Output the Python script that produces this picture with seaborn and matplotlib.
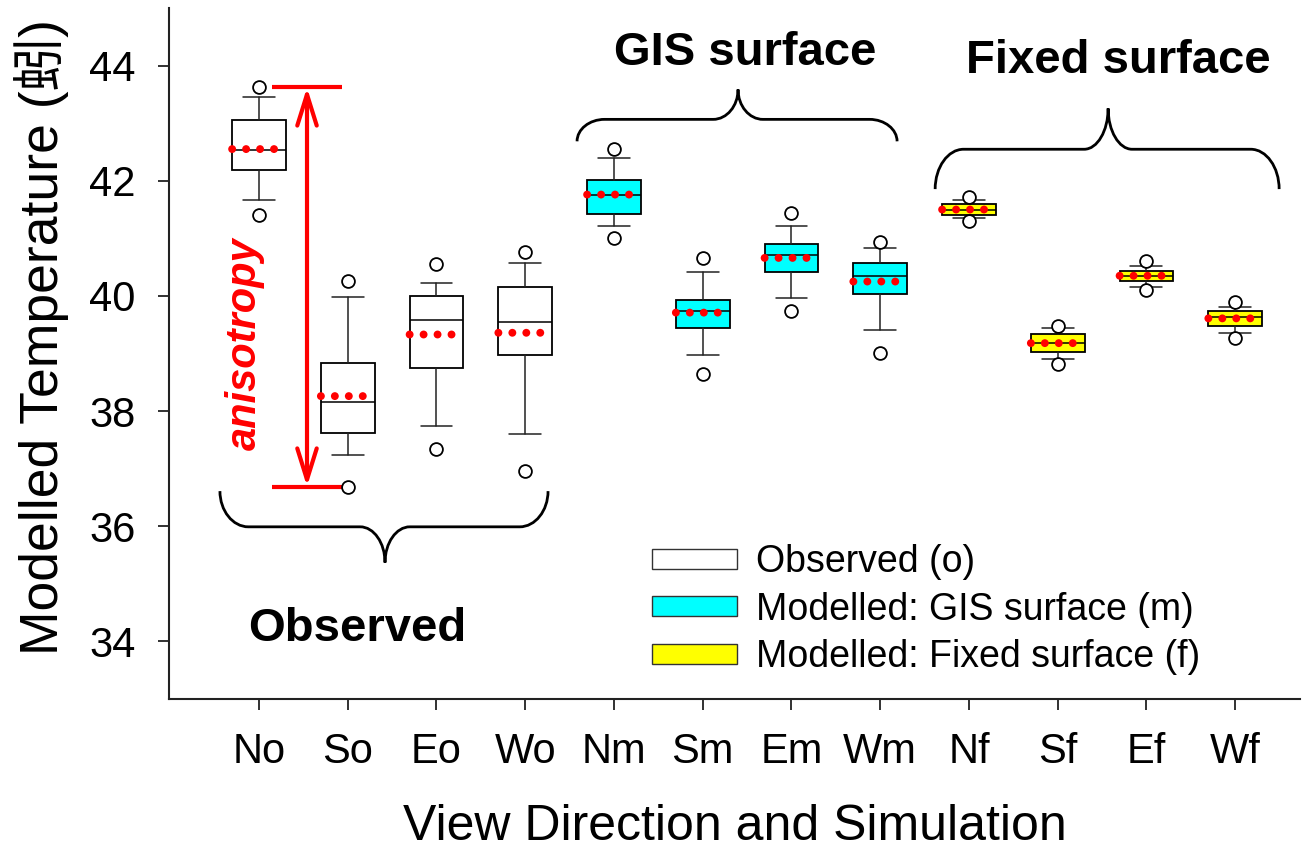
import numpy as np
import pandas as pd
import matplotlib
matplotlib.use("Agg")
import matplotlib.pyplot as plt
from matplotlib.patches import Patch, PathPatch
from matplotlib.path import Path
import seaborn as sns

# ---- data -------------------------------------------------------------
labels = ["No", "So", "Eo", "Wo", "Nm", "Sm", "Em", "Wm", "Nf", "Sf", "Ef", "Wf"]
groups = ["Observed (o)"] * 4 + ["Modelled: GIS surface (m)"] * 4 + ["Modelled: Fixed surface (f)"] * 4

q1 = [42.18, 37.62, 38.75, 38.97, 41.43, 39.44, 40.41, 40.03, 41.40, 39.03, 40.26, 39.48]
median = [42.54, 38.15, 39.59, 39.55, 41.76, 39.74, 40.71, 40.35, 41.49, 39.18, 40.35, 39.64]
q3 = [43.06, 38.84, 39.99, 40.16, 42.02, 39.93, 40.90, 40.58, 41.59, 39.34, 40.44, 39.74]
whisker_lo = [41.66, 37.24, 37.74, 37.60, 41.22, 38.98, 39.96, 39.41, 41.35, 38.90, 40.16, 39.35]
whisker_hi = [43.45, 39.98, 40.22, 40.58, 42.40, 40.42, 41.21, 40.84, 41.67, 39.44, 40.52, 39.80]
mean = [42.55, 38.26, 39.33, 39.36, 41.76, 39.71, 40.66, 40.25, 41.50, 39.18, 40.35, 39.61]
outlier_lo = [41.40, 36.69, 37.34, 36.96, 41.00, 38.64, 39.73, 39.00, 41.30, 38.82, 40.11, 39.27]
outlier_hi = [43.62, 40.26, 40.55, 40.77, 42.55, 40.66, 41.44, 40.93, 41.72, 39.48, 40.60, 39.90]

group_colors = {"Observed (o)": "#FFFFFF",
                "Modelled: GIS surface (m)": "#00FFFF",
                "Modelled: Fixed surface (f)": "#FFFF00"}

# ---- style ------------------------------------------------------------
sns.set_style("ticks")
plt.rcParams["font.family"] = ["Liberation Sans", "Noto Sans CJK SC", "DejaVu Sans"]
plt.rcParams.update({"text.color": "black", "axes.labelcolor": "black",
                     "xtick.color": "black", "ytick.color": "black"})

fig = plt.figure(figsize=(13.07, 8.55), dpi=100)
ax = fig.add_axes([169 / 1307, 1 - 699 / 855, (1300 - 169) / 1307, (699 - 8) / 855])

pos = np.arange(len(labels))
box_w = 0.605

stats = [dict(label=l, q1=a, med=m, q3=b, whislo=lo, whishi=hi)
         for l, a, m, b, lo, hi in zip(labels, q1, median, q3, whisker_lo, whisker_hi)]
bp = ax.bxp(stats, positions=pos, widths=box_w, capwidths=0.36,
            patch_artist=True, showfliers=False,
            boxprops=dict(edgecolor="black", linewidth=1.3),
            medianprops=dict(color="black", linewidth=1.1),
            whiskerprops=dict(color="#222222", linewidth=1.1),
            capprops=dict(color="#222222", linewidth=1.1))
for patch, g in zip(bp["boxes"], groups):
    patch.set_facecolor(group_colors[g])
    patch.set_zorder(2)

# outliers (5th / 95th percentile points)
fliers = pd.DataFrame({"x": np.concatenate([pos, pos]),
                       "y": outlier_lo + outlier_hi})
sns.scatterplot(data=fliers, x="x", y="y", ax=ax, marker="o", s=85,
                facecolor="white", edgecolor="black", linewidth=1.3,
                zorder=4, legend=False)

# mean shown as a dotted red line of four dots across each box
mean_df = pd.DataFrame({
    "x": np.concatenate([pos - box_w / 2 + k * 0.26 * box_w for k in range(4)]),
    "y": np.tile(mean, 4)})
sns.scatterplot(data=mean_df, x="x", y="y", ax=ax, marker="o", s=32,
                color="red", edgecolor="none", zorder=5, legend=False)

# ---- axes -------------------------------------------------------------
ax.set_xlim(-1.014, 11.73)
ax.set_ylim(33, 45)
ax.set_yticks([34, 36, 38, 40, 42, 44])
ax.set_xticks(pos)
ax.set_xticklabels(labels)
ax.tick_params(axis="both", labelsize=30, length=8, width=1.3, direction="out",
               color="#222222", pad=16)
for side in ("top", "right"):
    ax.spines[side].set_visible(False)
for side in ("left", "bottom"):
    ax.spines[side].set_linewidth(1.5)
    ax.spines[side].set_color("#222222")
ax.set_xlabel("View Direction and Simulation", fontsize=36, labelpad=23)
ax.set_ylabel("Modelled Temperature (蚓)", fontsize=38.5)
ax.yaxis.set_label_coords(-0.088, 0.524)


# ---- curly braces -----------------------------------------------------
def curly_brace(ax, x0, x1, y_end, y_bar, y_tip, xc, dxc, dxm, lw=2.0):
    verts = [
        (x0, y_end),
        (x0, y_end + 0.55 * (y_bar - y_end)), (x0 + 0.45 * dxc, y_bar), (x0 + dxc, y_bar),
        (xc - dxm, y_bar),
        (xc - 0.45 * dxm, y_bar), (xc, y_bar + 0.45 * (y_tip - y_bar)), (xc, y_tip),
        (xc, y_bar + 0.45 * (y_tip - y_bar)), (xc + 0.45 * dxm, y_bar), (xc + dxm, y_bar),
        (x1 - dxc, y_bar),
        (x1 - 0.45 * dxc, y_bar), (x1, y_end + 0.55 * (y_bar - y_end)), (x1, y_end),
    ]
    codes = [Path.MOVETO,
             Path.CURVE4, Path.CURVE4, Path.CURVE4,
             Path.LINETO,
             Path.CURVE4, Path.CURVE4, Path.CURVE4,
             Path.CURVE4, Path.CURVE4, Path.CURVE4,
             Path.LINETO,
             Path.CURVE4, Path.CURVE4, Path.CURVE4]
    ax.add_patch(PathPatch(Path(verts, codes), facecolor="none", edgecolor="black",
                           linewidth=lw, clip_on=False, zorder=3, capstyle="butt"))


curly_brace(ax, -0.44, 3.257, 36.61, 35.99, 35.37, 1.42, 0.32, 0.28)
curly_brace(ax, 3.584, 7.19, 42.685, 43.066, 43.585, 5.398, 0.31, 0.28)
curly_brace(ax, 7.619, 11.495, 41.855, 42.547, 43.256, 9.568, 0.32, 0.27)

ax.text(5.477, 44.01, "GIS surface", fontsize=34, fontweight="bold",
        ha="center", va="baseline")
ax.text(9.687, 43.87, "Fixed surface", fontsize=34, fontweight="bold",
        ha="center", va="baseline")
ax.text(1.104, 34.005, "Observed", fontsize=34, fontweight="bold",
        ha="center", va="baseline")

# ---- anisotropy range marker -----------------------------------------
top_val, bottom_val = outlier_hi[0], outlier_lo[1]
ax.plot([0.15, 0.94], [top_val, top_val], color="red", lw=3, solid_capstyle="butt", zorder=3)
ax.plot([0.15, 0.94], [bottom_val, bottom_val], color="red", lw=3, solid_capstyle="butt", zorder=3)
ax.annotate("", xy=(0.541, top_val), xytext=(0.541, bottom_val),
            arrowprops=dict(arrowstyle="<->,head_length=1.6,head_width=0.5",
                            color="red", lw=3, shrinkA=0, shrinkB=0,
                            mutation_scale=14), zorder=3)
ax.text(-0.158, 39.17, "anisotropy", color="red", fontsize=30, fontweight="bold",
        fontstyle="italic", rotation=90, ha="center", va="center")

# ---- legend -----------------------------------------------------------
handles = [Patch(facecolor=group_colors[g], edgecolor="#333333", linewidth=1.0, label=g)
           for g in dict.fromkeys(groups)]
ax.legend(handles=handles, loc="upper left", bbox_to_anchor=(0.427, 0.2244),
          frameon=False, fontsize=27, handlelength=2.27, handleheight=0.45,
          handletextpad=0.5, labelspacing=0.31, borderpad=0, borderaxespad=0)

fig.savefig("out.png", dpi=100)
